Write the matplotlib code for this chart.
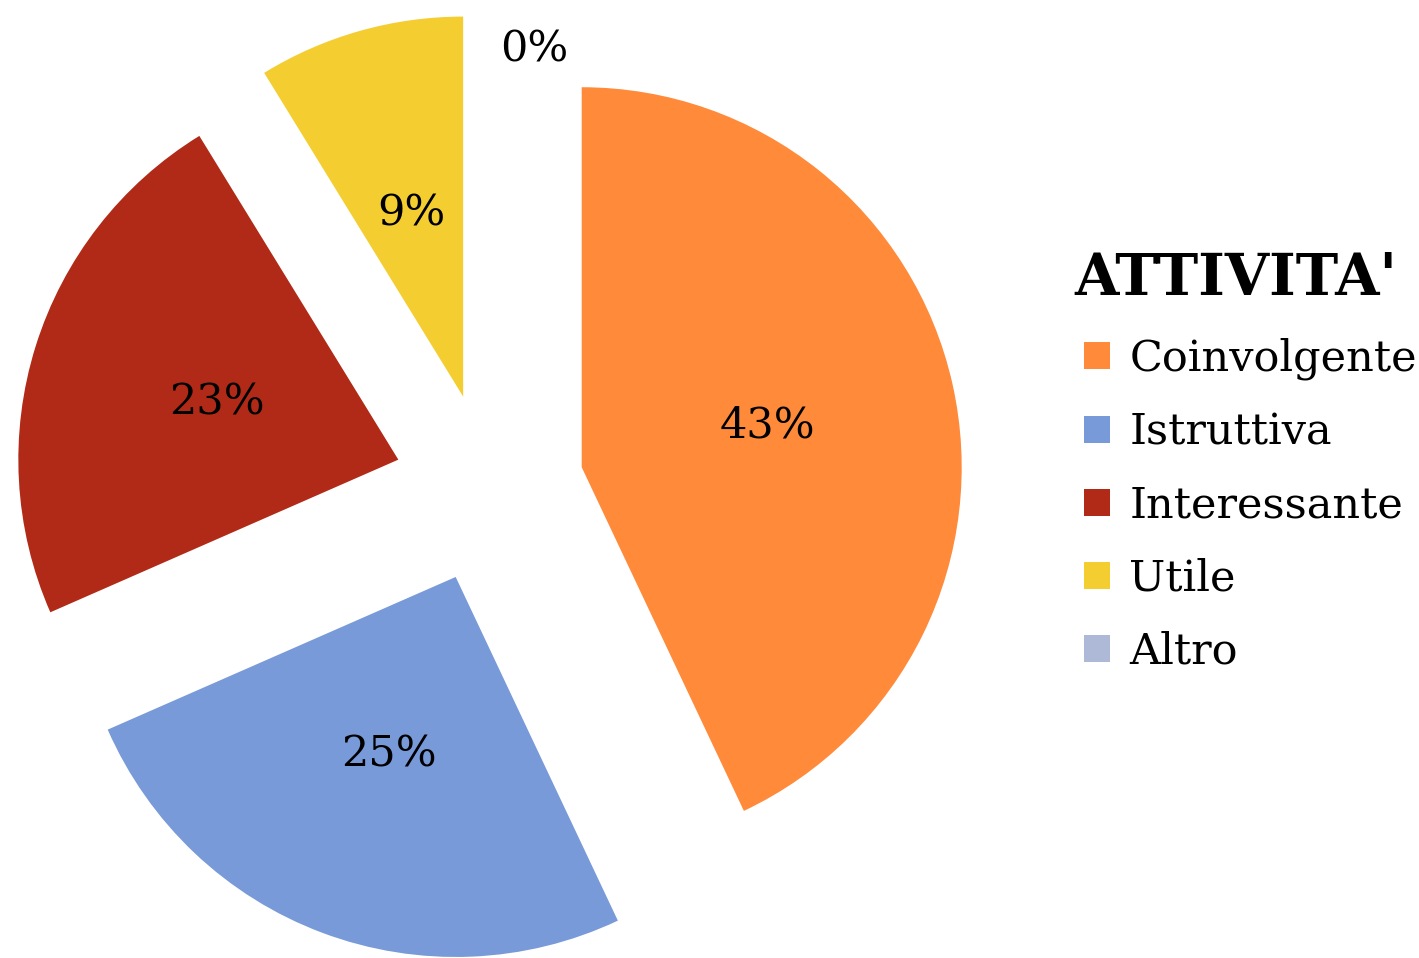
import matplotlib.pyplot as plt

# risposte al questionario (conteggi)
categorie = ["Coinvolgente", "Istruttiva", "Interessante", "Utile", "Altro"]
risposte = [49, 29, 26, 10, 0]
colori = ["#FF8A3A", "#789AD8", "#B02A17", "#F4CE30", "#ADB9D6"]

plt.rcParams["font.family"] = ["DejaVu Serif"]

fig = plt.figure(figsize=(14.19, 9.58), dpi=100)
ax = fig.add_axes([-5 / 1419, -24 / 958, 988 / 1419, 988 / 958])

wedges, texts, autotexts = ax.pie(
    risposte,
    colors=colori,
    startangle=90,
    counterclock=False,
    explode=[0.25] * len(risposte),
    autopct="%.0f%%",
    pctdistance=0.5,
    textprops={"fontsize": 31, "color": "black"},
)
# etichetta della fetta vuota, messa sopra il grafico
autotexts[-1].set_position((0.12, 1.155))

ax.set_xlim(-1.3, 1.3)
ax.set_ylim(-1.3, 1.3)
ax.set_aspect("auto")

leg = fig.legend(
    wedges, categorie,
    title="ATTIVITA'",
    loc="upper left",
    bbox_to_anchor=(1084 / 1419, 1 - 251 / 958),
    frameon=False,
    fontsize=31,
    title_fontsize=41,
    handlelength=0.6,
    handleheight=0.6,
    handletextpad=0.45,
    labelspacing=0.72,
    borderaxespad=0,
    borderpad=0,
)
leg.get_title().set_fontweight("bold")
leg.get_title().set_position((-10, 0))  # titolo un po' piu' a sinistra dei quadratini
leg._legend_box.align = "left"

fig.savefig("out.png", dpi=100)
